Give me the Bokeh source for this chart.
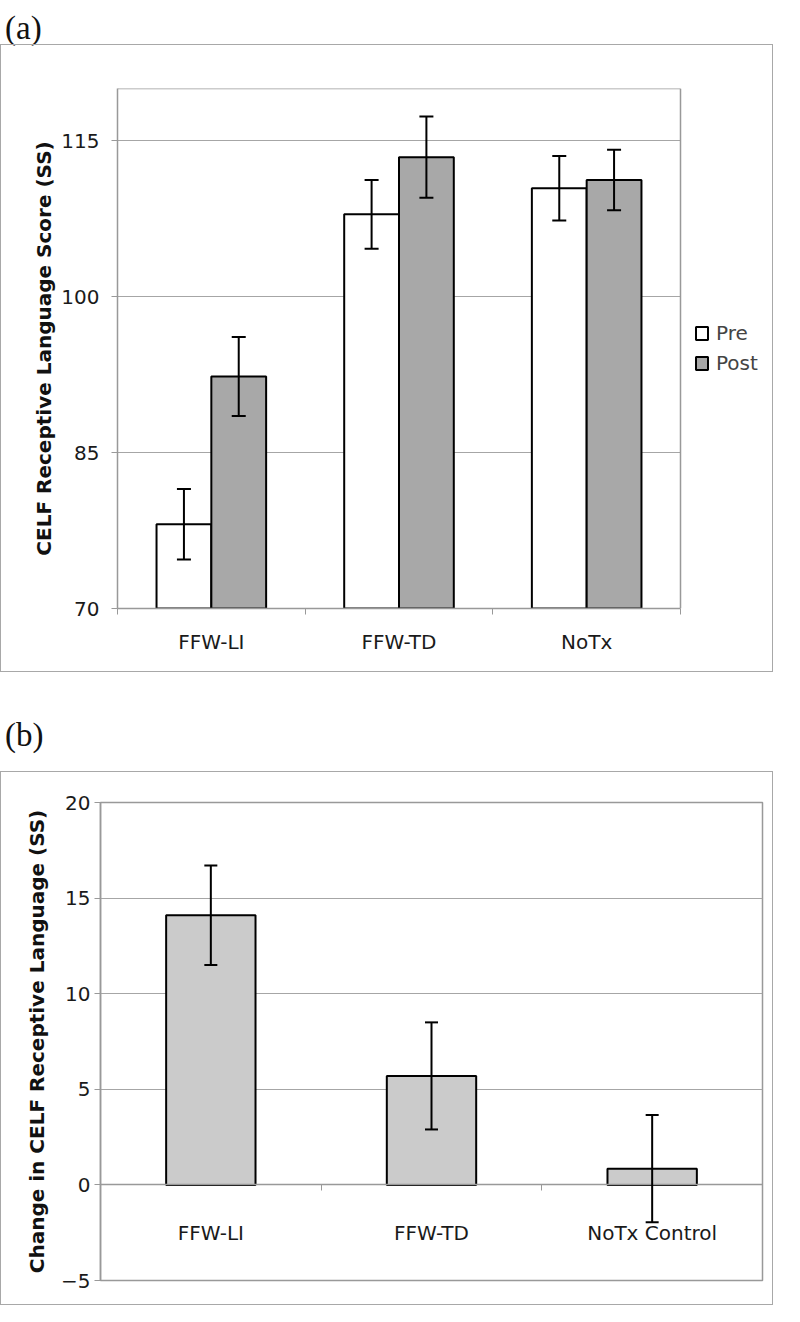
from bokeh.plotting import figure
from bokeh.models import (Range1d, FixedTicker, Whisker, TeeHead, ColumnDataSource,
                          Legend, LegendItem, Div, LinearAxis, Grid)
from bokeh.layouts import column
from bokeh.embed import file_html
from bokeh.resources import INLINE
import numpy as np

# ---- data: panel (a) ----
groups_a = ["FFW-LI", "FFW-TD", "NoTx"]
pre_mean = [78.1, 107.9, 110.4]
pre_err = [3.4, 3.3, 3.1]
post_mean = [92.3, 113.4, 111.2]
post_err = [3.8, 3.9, 2.9]
yticks_a = [70, 85, 100, 115]
series_names = ["Pre", "Post"]
ytitle_a = "CELF Receptive Language Score (SS)"

# ---- data: panel (b) ----
groups_b = ["FFW-LI", "FFW-TD", "NoTx Control"]
change_mean = [14.1, 5.7, 0.85]
change_err = [2.6, 2.8, 2.8]
yticks_b = [-5, 0, 5, 10, 15, 20]
ytitle_b = "Change in CELF Receptive Language (SS)"

FONT = "DejaVu Sans"
TICK_FS = "20px"
TITLE_FS = "20px"
GRID = "#a6a6a6"
FRAME = "#999999"


def style_axes(p):
    for ax in p.xaxis + p.yaxis:
        ax.major_label_text_font = FONT
        ax.major_label_text_font_size = TICK_FS
        ax.major_label_text_color = "#1a1a1a"
        ax.axis_line_color = FRAME
        ax.axis_line_width = 1.5
        ax.major_tick_line_color = FRAME
        ax.minor_tick_line_color = FRAME
        ax.axis_label_text_font = FONT
        ax.axis_label_text_font_size = TITLE_FS
        ax.axis_label_text_font_style = "bold"
        ax.axis_label_text_color = "#111111"


def whisker(p, x, mean, err, size):
    src = ColumnDataSource(dict(x=list(x),
                                upper=[m + e for m, e in zip(mean, err)],
                                lower=[m - e for m, e in zip(mean, err)]))
    w = Whisker(source=src, base="x", upper="upper", lower="lower",
                line_color="black", line_width=2, level="overlay",
                upper_head=TeeHead(size=size, line_width=2, line_color="black"),
                lower_head=TeeHead(size=size, line_width=2, line_color="black"))
    p.add_layout(w)


def border_axis(p, side, loc, bounds):
    ax = LinearAxis(fixed_location=loc, bounds=bounds,
                    ticker=FixedTicker(ticks=[], minor_ticks=[]),
                    major_label_text_font_size="0px",
                    axis_line_color=FRAME, axis_line_width=1.5,
                    major_tick_line_color=None, minor_tick_line_color=None)
    p.add_layout(ax, side)


# ================= panel (a) =================
n_a = len(groups_a)
centers_a = np.arange(n_a) + 0.5
bw = 0.292
plot_w_a = 563        # pixel width of the data area
frame_w_a = 655       # frame incl. legend area on the right
y0_a, y1_a = 70, 120

pa = figure(frame_width=frame_w_a, frame_height=520, output_backend="svg",
            toolbar_location=None,
            x_range=Range1d(0, n_a * frame_w_a / plot_w_a), y_range=Range1d(y0_a, y1_a),
            min_border_left=116, min_border_right=0, min_border_top=43,
            min_border_bottom=63, background_fill_color="white",
            border_fill_color="white", outline_line_color=None)
pa.xgrid.visible = False
pa.ygrid.ticker = FixedTicker(ticks=yticks_a[1:])
if "cross_bounds" in Grid.properties():
    pa.ygrid.cross_bounds = (0, n_a)
pa.ygrid.grid_line_color = GRID
pa.ygrid.grid_line_width = 1.2

r_pre = pa.vbar(x=centers_a - bw / 2, top=pre_mean, bottom=y0_a, width=bw,
                fill_color="white", line_color="black", line_width=2)
r_post = pa.vbar(x=centers_a + bw / 2, top=post_mean, bottom=y0_a, width=bw,
                 fill_color="#a8a8a8", line_color="black", line_width=2)
whisker(pa, centers_a - bw / 2, pre_mean, pre_err, 14)
whisker(pa, centers_a + bw / 2, post_mean, post_err, 14)

pa.yaxis.ticker = FixedTicker(ticks=yticks_a, minor_ticks=[])
pa.yaxis.major_tick_out = 6
pa.yaxis.major_tick_in = 0
pa.yaxis.major_label_standoff = 12
pa.yaxis.axis_label = ytitle_a
pa.yaxis.axis_label_standoff = 2

pa.xaxis.ticker = FixedTicker(ticks=list(centers_a), minor_ticks=list(range(n_a + 1)))
pa.xaxis.major_label_overrides = {float(c): g for c, g in zip(centers_a, groups_a)}
pa.xaxis.bounds = (0, n_a)
pa.xaxis.major_tick_out = 0
pa.xaxis.major_tick_in = 0
pa.xaxis.minor_tick_out = 6
pa.xaxis.minor_tick_in = 0
pa.xaxis.major_label_standoff = 15
style_axes(pa)

# plot-area border on the top and right of the data area
border_axis(pa, "above", y1_a, (0, n_a))
border_axis(pa, "right", n_a, (y0_a, y1_a))

legend = Legend(items=[LegendItem(label=series_names[0], renderers=[r_pre]),
                       LegendItem(label=series_names[1], renderers=[r_post])],
                location=(577, 233), orientation="vertical",
                label_text_font=FONT, label_text_font_size=TICK_FS,
                glyph_width=15, glyph_height=16, label_height=20, spacing=6,
                label_standoff=7, margin=0, padding=10,
                border_line_color=None, background_fill_alpha=0)
pa.add_layout(legend)

# ================= panel (b) =================
n_b = len(groups_b)
centers_b = np.arange(n_b) + 0.5

pb = figure(width=771, height=532, output_backend="svg", toolbar_location=None,
            x_range=Range1d(0, n_b), y_range=Range1d(-5, 20),
            min_border_left=99, min_border_right=10, min_border_top=30,
            min_border_bottom=24, background_fill_color="white",
            border_fill_color="white", outline_line_color=FRAME, outline_line_width=1.5)
pb.xgrid.visible = False
pb.ygrid.ticker = FixedTicker(ticks=[t for t in yticks_b if t > 0])
pb.ygrid.grid_line_color = GRID
pb.ygrid.grid_line_width = 1.2

pb.vbar(x=centers_b, top=change_mean, bottom=0, width=0.405,
        fill_color="#cbcbcb", line_color="black", line_width=2)
whisker(pb, centers_b, change_mean, change_err, 13)

pb.yaxis.ticker = FixedTicker(ticks=yticks_b, minor_ticks=[])
pb.yaxis.major_tick_out = 6
pb.yaxis.major_tick_in = 0
pb.yaxis.major_label_standoff = 4
pb.yaxis.axis_label = ytitle_b
pb.yaxis.axis_label_standoff = 9

pb.xaxis.fixed_location = 0
pb.xaxis.ticker = FixedTicker(ticks=list(centers_b), minor_ticks=list(range(n_b + 1)))
pb.xaxis.major_label_overrides = {float(c): g for c, g in zip(centers_b, groups_b)}
pb.xaxis.major_tick_out = 0
pb.xaxis.major_tick_in = 0
pb.xaxis.minor_tick_out = 6
pb.xaxis.minor_tick_in = 0
pb.xaxis.major_label_standoff = 30
style_axes(pb)

lab_style = {"font-family": "Liberation Serif", "font-size": "33px", "color": "#111111"}
div_a = Div(text="<div style='line-height:33px;margin-top:-8px'>(a)</div>",
            width=80, height=34, styles=lab_style)
div_b = Div(text="<div style='line-height:33px;margin-top:42px'>(b)</div>",
            width=80, height=89, styles=lab_style)

box_style = {"border": "1px solid #a8a8a8"}
box_a = column(pa, styles=box_style)
box_b = column(pb, styles=box_style)

layout = column(div_a, box_a, div_b, box_b, spacing=0)

open("out.html", "w").write(file_html(layout, INLINE))
